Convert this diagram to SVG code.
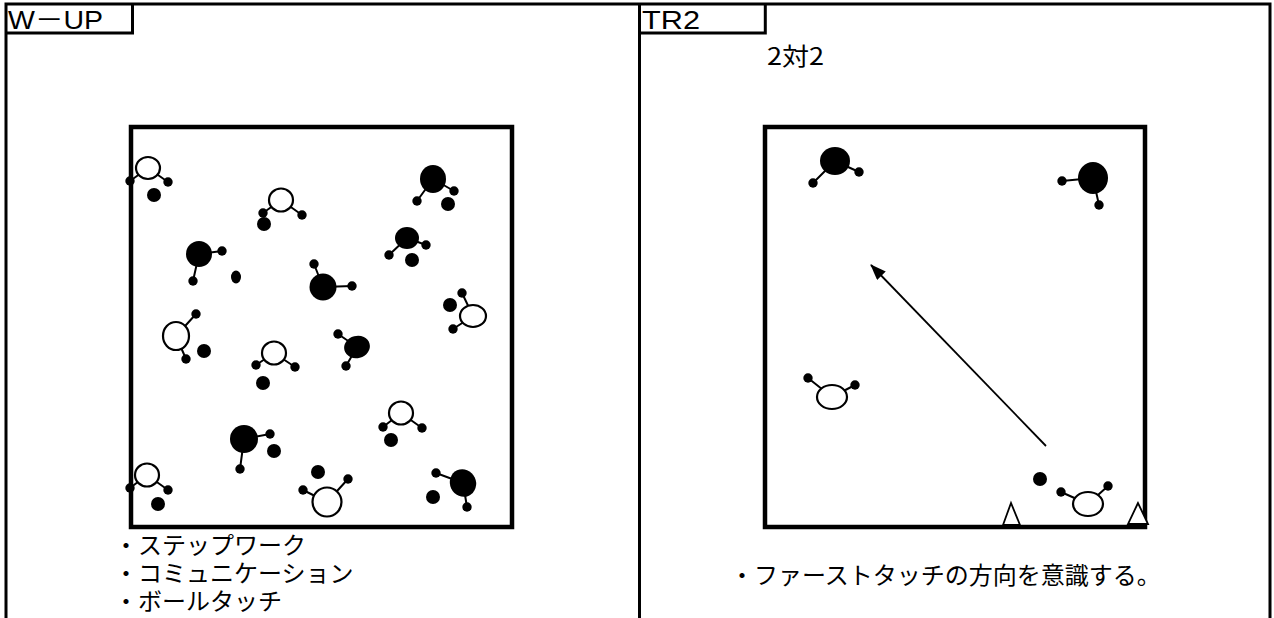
<svg xmlns="http://www.w3.org/2000/svg" width="1274" height="618" viewBox="0 0 1274 618">
<style>
.frame{fill:none;stroke:#000;stroke-width:3}
.field{fill:none;stroke:#000;stroke-width:4.5}
.lim{stroke:#000;stroke-width:2;fill:none}
.dot{fill:#000}
.ball{fill:#000}
.open{fill:#fff;stroke:#000;stroke-width:2.2}
.solid{fill:#000}
.cone{fill:#fff;stroke:#000;stroke-width:1.8}
.ttl{font-family:"Liberation Sans","Noto Sans CJK JP",sans-serif;font-size:26px;fill:#000}
.jp{font-family:"Noto Sans CJK JP","Noto Sans CJK SC",sans-serif;font-size:24px;fill:#000}
</style>
<defs>
<marker id="ah" markerUnits="userSpaceOnUse" markerWidth="16" markerHeight="12" refX="15" refY="6" orient="auto">
<path d="M0,0 L16,6 L0,12 Z" fill="#000"/>
</marker>
</defs>
<rect width="1274" height="618" fill="#fff"/>
<g id="frame">
<path class="frame" d="M6,618 V4 H1270 V618 M639.5,4 V618"/>
<path class="frame" d="M6,33 H132.5 V4"/>
<path class="frame" d="M639.5,33 H765.3 V4"/>
</g>
<g id="titles">
<text class="ttl" x="8" y="29" textLength="95" lengthAdjust="spacingAndGlyphs">W－UP</text>
<text class="ttl" x="642" y="29" textLength="58" lengthAdjust="spacingAndGlyphs">TR2</text>
<text class="jp" x="767" y="65" textLength="57" lengthAdjust="spacingAndGlyphs">2対2</text>
</g>
<g id="field-left"><rect class="field" x="131" y="127" width="381" height="400"/></g>
<g id="field-right"><rect class="field" x="765" y="127" width="380" height="400"/></g>

<g id="p1"><path class="lim" d="M148,168 L130,181 M148,168 L168,182"/><ellipse class="open" cx="148" cy="168" rx="12" ry="11"/><circle class="dot" cx="130" cy="181" r="4.7"/><circle class="dot" cx="168" cy="182" r="4.7"/><circle class="ball" cx="154" cy="195" r="7"/></g>
<g id="p2"><path class="lim" d="M281,200 L263,213 M281,200 L302,215"/><ellipse class="open" cx="281" cy="200" rx="12" ry="11.5"/><circle class="dot" cx="263" cy="213" r="4.7"/><circle class="dot" cx="302" cy="215" r="4.7"/><circle class="ball" cx="264" cy="224" r="7"/></g>
<g id="p3"><path class="lim" d="M199,254 L222,251 M199,254 L193,281"/><circle class="solid" cx="199" cy="254" r="13"/><circle class="dot" cx="222" cy="251" r="4.7"/><circle class="dot" cx="193" cy="281" r="4.7"/><ellipse class="ball" cx="236" cy="277" rx="5" ry="6.5"/></g>
<g id="p4"><path class="lim" d="M323,287 L314,264 M323,287 L352,286"/><circle class="solid" cx="323" cy="287" r="13.5"/><circle class="dot" cx="314" cy="264" r="4.7"/><circle class="dot" cx="352" cy="286" r="4.7"/></g>
<g id="p5"><path class="lim" d="M433,179 L417,201 M433,179 L454,191"/><ellipse class="solid" cx="433" cy="179" rx="13" ry="14"/><circle class="dot" cx="417" cy="201" r="4.7"/><circle class="dot" cx="454" cy="191" r="4.7"/><circle class="ball" cx="448" cy="204" r="7"/></g>
<g id="p6"><path class="lim" d="M407,238 L389,255 M407,238 L426,245"/><ellipse class="solid" cx="407" cy="238" rx="12" ry="11"/><circle class="dot" cx="389" cy="255" r="4.7"/><circle class="dot" cx="426" cy="245" r="4.7"/><circle class="ball" cx="412" cy="260" r="7"/></g>
<g id="p7"><path class="lim" d="M473,316 L462,293 M473,316 L453,329"/><ellipse class="open" cx="473" cy="316" rx="13" ry="11"/><circle class="dot" cx="462" cy="293" r="4.7"/><circle class="dot" cx="453" cy="329" r="4.7"/><circle class="ball" cx="450" cy="305" r="7"/></g>
<g id="p8"><path class="lim" d="M176,336 L196,314 M176,336 L186,359"/><ellipse class="open" cx="176" cy="336" rx="13" ry="14"/><circle class="dot" cx="196" cy="314" r="4.7"/><circle class="dot" cx="186" cy="359" r="4.7"/><circle class="ball" cx="204" cy="351" r="7"/></g>
<g id="p9"><path class="lim" d="M274,353 L256,365 M274,353 L295,367"/><ellipse class="open" cx="274" cy="353" rx="12" ry="11.5"/><circle class="dot" cx="256" cy="365" r="4.7"/><circle class="dot" cx="295" cy="367" r="4.7"/><circle class="ball" cx="263" cy="383" r="7"/></g>
<g id="p10"><path class="lim" d="M244,439 L270,434 M244,439 L240,469"/><circle class="solid" cx="244" cy="439" r="14"/><circle class="dot" cx="270" cy="434" r="4.7"/><circle class="dot" cx="240" cy="469" r="4.7"/><circle class="ball" cx="274" cy="451" r="7"/></g>
<g id="p11"><path class="lim" d="M147,475 L130,488 M147,475 L168,490"/><ellipse class="open" cx="147" cy="475" rx="12" ry="11.5"/><circle class="dot" cx="130" cy="488" r="4.7"/><circle class="dot" cx="168" cy="490" r="4.7"/><circle class="ball" cx="158" cy="504" r="7"/></g>
<g id="p12"><path class="lim" d="M357,347 L338,334 M357,347 L346,366"/><ellipse class="solid" cx="357" cy="347" rx="13" ry="11" transform="rotate(-15 357 347)"/><circle class="dot" cx="338" cy="334" r="4.7"/><circle class="dot" cx="346" cy="366" r="4.7"/></g>
<g id="p13"><path class="lim" d="M401,413 L383,427 M401,413 L422,428"/><ellipse class="open" cx="401" cy="413" rx="12" ry="11.5"/><circle class="dot" cx="383" cy="427" r="4.7"/><circle class="dot" cx="422" cy="428" r="4.7"/><circle class="ball" cx="391" cy="440" r="7"/></g>
<g id="p14"><path class="lim" d="M327,502 L303,490 M327,502 L348,479"/><ellipse class="open" cx="327" cy="502" rx="14.5" ry="14.5"/><circle class="dot" cx="303" cy="490" r="4.7"/><circle class="dot" cx="348" cy="479" r="4.7"/><circle class="ball" cx="318" cy="472" r="7"/></g>
<g id="p15"><path class="lim" d="M463,483 L436,473 M463,483 L467,507"/><ellipse class="solid" cx="463" cy="483" rx="13" ry="14" transform="rotate(-25 463 483)"/><circle class="dot" cx="436" cy="473" r="4.7"/><circle class="dot" cx="467" cy="507" r="4.7"/><circle class="ball" cx="433" cy="497" r="7"/></g>

<g id="r1"><path class="lim" d="M835,161 L813,183 M835,161 L859,172"/><ellipse class="solid" cx="835" cy="161" rx="15" ry="14"/><circle class="dot" cx="813" cy="183" r="4.7"/><circle class="dot" cx="859" cy="172" r="4.7"/></g>
<g id="r2"><path class="lim" d="M1093,178 L1062,181 M1093,178 L1099,205"/><ellipse class="solid" cx="1093" cy="178" rx="15" ry="16"/><circle class="dot" cx="1062" cy="181" r="4.7"/><circle class="dot" cx="1099" cy="205" r="4.7"/></g>
<g id="r3"><path class="lim" d="M832,397 L808,378 M832,397 L855,385"/><ellipse class="open" cx="832" cy="397" rx="15" ry="12"/><circle class="dot" cx="808" cy="378" r="4.7"/><circle class="dot" cx="855" cy="385" r="4.7"/></g>
<g id="r4"><circle class="ball" cx="1040" cy="479" r="7"/></g>
<g id="r5"><path class="lim" d="M1088,504 L1061,492 M1088,504 L1108,486"/><ellipse class="open" cx="1088" cy="504" rx="15" ry="12"/><circle class="dot" cx="1061" cy="492" r="4.7"/><circle class="dot" cx="1108" cy="486" r="4.7"/></g>
<g id="cone1"><polygon class="cone" points="1011,503 1003,525 1020,525"/></g>
<g id="cone2"><polygon class="cone" points="1138,503 1128,524 1148,524"/></g>

<g id="connectors">
<line x1="1046" y1="446" x2="871" y2="265" stroke="#000" stroke-width="1.8" marker-end="url(#ah)"/>
</g>

<g id="notes">
<text class="jp" x="114" y="554"><tspan x="114" y="554">・ステップワーク</tspan><tspan x="114" y="582">・コミュニケーション</tspan><tspan x="114" y="610">・ボールタッチ</tspan></text>
<text class="jp" x="730" y="584">・ファーストタッチの方向を意識する。</text>
</g>
</svg>
